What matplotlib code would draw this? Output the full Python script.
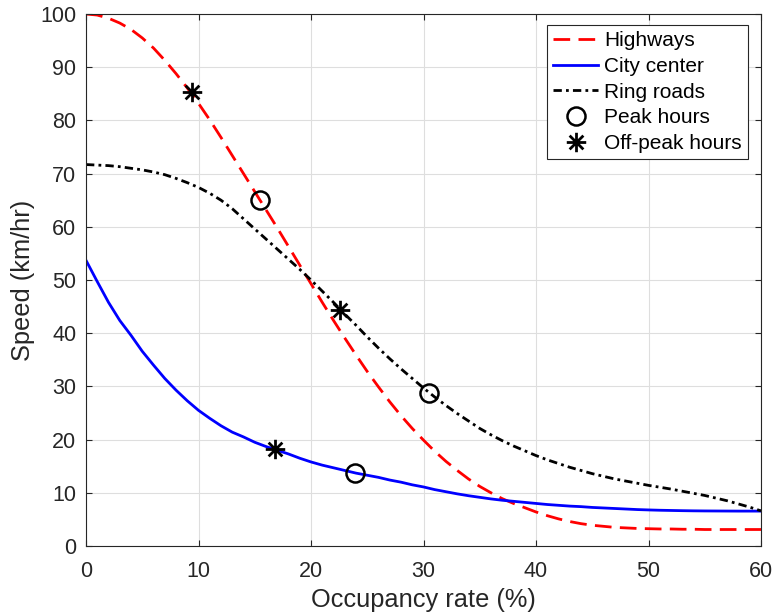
import numpy as np
import matplotlib
matplotlib.use("Agg")
import matplotlib.pyplot as plt
from matplotlib.path import Path

plt.rcParams['font.family'] = ['Liberation Sans', 'DejaVu Sans']

# occupancy rate (%), read every 1 %
occ = np.arange(0, 61, 1)

highways = [100.0, 99.8, 99.2, 98.3, 97.1, 95.5, 93.6, 91.3, 88.8, 86.1,
            83.2, 80.1, 76.8, 73.4, 70.0, 66.6, 63.2, 59.8, 56.3, 52.8,
            49.3, 45.8, 42.4, 39.1, 35.9, 32.8, 29.9, 27.1, 24.5, 22.1,
            19.9, 17.8, 15.9, 14.2, 12.6, 11.2, 10.0, 8.9, 8.0, 7.2,
            6.4, 5.7, 5.1, 4.6, 4.2, 3.9, 3.7, 3.5, 3.4, 3.3,
            3.25, 3.2, 3.2, 3.15, 3.15, 3.1, 3.1, 3.1, 3.1, 3.1, 3.1]
city_center = [53.7, 49.7, 45.8, 42.4, 39.6, 36.6, 34.0, 31.5, 29.3, 27.3,
               25.5, 24.0, 22.6, 21.4, 20.5, 19.5, 18.7, 18.0, 17.3, 16.5,
               15.8, 15.2, 14.7, 14.2, 13.7, 13.3, 12.9, 12.4, 12.0, 11.5,
               11.1, 10.6, 10.2, 9.8, 9.45, 9.15, 8.85, 8.6, 8.4, 8.2,
               8.0, 7.8, 7.65, 7.5, 7.4, 7.25, 7.15, 7.05, 6.95, 6.85,
               6.78, 6.72, 6.68, 6.64, 6.61, 6.59, 6.58, 6.57, 6.56, 6.56, 6.56]
ring_roads = [71.7, 71.6, 71.5, 71.3, 71.0, 70.7, 70.3, 69.8, 69.1, 68.3,
              67.4, 66.3, 65.0, 63.4, 61.5, 59.6, 57.7, 55.8, 53.9, 52.0,
              50.0, 47.9, 45.8, 43.6, 41.5, 39.3, 37.2, 35.2, 33.3, 31.5,
              29.7, 28.0, 26.4, 24.9, 23.5, 22.1, 20.9, 19.8, 18.8, 17.9,
              17.0, 16.2, 15.5, 14.8, 14.2, 13.6, 13.1, 12.6, 12.2, 11.8,
              11.4, 11.05, 10.7, 10.3, 9.9, 9.5, 9.0, 8.5, 7.9, 7.3, 6.6]

# markers, order: highways, city center, ring roads
peak_x = [15.5, 23.9, 30.5]
peak_y = [65.0, 13.7, 28.8]
offpeak_x = [9.4, 16.8, 22.6]
offpeak_y = [85.4, 18.3, 44.3]

# MATLAB-like 8 ray asterisk
d = 0.7071
asterisk = Path([(-1, 0), (1, 0), (0, -1), (0, 1),
                 (-d, -d), (d, d), (-d, d), (d, -d)],
                [Path.MOVETO, Path.LINETO] * 4)

axcol = '#262626'
fig = plt.figure(figsize=(7.77, 6.16), dpi=100)
ax = fig.add_axes([86 / 777, 1 - 546 / 616, 675 / 777, 532 / 616])

ax.plot(occ, highways, color='red', lw=2, linestyle=(0, (6, 3)), label='Highways')
ax.plot(occ, city_center, color='blue', lw=2, label='City center')
ax.plot(occ, ring_roads, color='black', lw=2, linestyle=(0, (3, 1.5, 1, 1.5)),
        label='Ring roads')
ax.plot(peak_x, peak_y, linestyle='none', marker='o', ms=13, mfc='none',
        mec='black', mew=1.8, label='Peak hours')
ax.plot(offpeak_x, offpeak_y, linestyle='none', marker=asterisk, ms=14,
        mfc='none', mec='black', mew=2, label='Off-peak hours')

ax.set_xlim(0, 60)
ax.set_ylim(0, 100)
ax.set_xticks(range(0, 61, 10))
ax.set_yticks(range(0, 101, 10))
ax.grid(True, color='#dedede', lw=0.8)
ax.set_axisbelow(True)
ax.tick_params(direction='in', top=True, right=True, length=4.5, width=0.8,
               colors=axcol, labelsize=15.5)
ax.tick_params(axis='x', pad=11)
ax.tick_params(axis='y', pad=7)
for s in ax.spines.values():
    s.set_color(axcol)
    s.set_linewidth(0.8)

ax.set_xlabel('Occupancy rate (%)', fontsize=18.3, color=axcol, labelpad=4)
ax.set_ylabel('Speed (km/hr)', fontsize=18.3, color=axcol, labelpad=4)

leg = ax.legend(loc='upper right', bbox_to_anchor=(0.981, 0.979),
                borderaxespad=0, fontsize=15, fancybox=False, framealpha=1,
                edgecolor='#262626', handlelength=2.15, handletextpad=0.3,
                labelspacing=0.32, borderpad=0.3)
leg.get_frame().set_linewidth(0.8)

fig.savefig('out.png', dpi=100)
